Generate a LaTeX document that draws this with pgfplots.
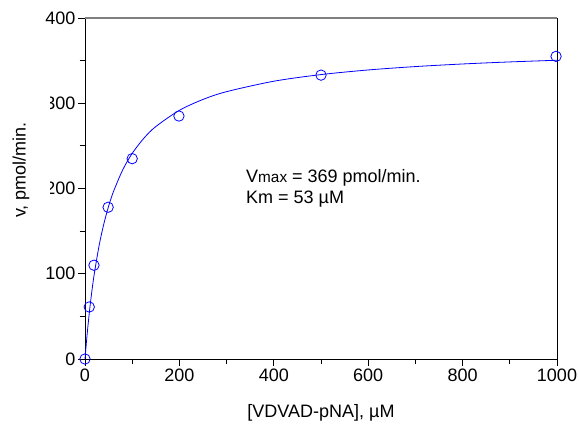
\documentclass[border=0pt]{standalone}
\usepackage{fontspec}
\setmainfont{Liberation Sans}
\usepackage{pgfplots}
\pgfplotsset{compat=1.18}
\definecolor{fitblue}{RGB}{0,0,255}
\definecolor{framegray}{RGB}{128,128,128}

\begin{document}
\fontsize{13.5}{16}\selectfont
\begin{tikzpicture}
\useasboundingbox (-63.75pt,-55.5pt) rectangle (370.5pt,269.25pt);
\begin{axis}[
    scale only axis,
    width=354pt, height=255.75pt,
    xmin=0, xmax=1000, ymin=0, ymax=400,
    xtick={0,200,...,1000}, minor xtick={100,300,...,900},
    ytick={0,100,...,400}, minor ytick={50,150,...,350},
    xtick pos=bottom, ytick pos=left,
    tick align=outside,
    major tick length=5pt, minor tick length=4pt,
    tick style={black, line width=0.6pt},
    axis line style={black, line width=0.6pt},
    /pgf/number format/assume math mode=true,
    /pgf/number format/1000 sep={},
    tick label style={font=\fontsize{13.5}{16}\selectfont},
    xticklabel style={inner sep=2pt},
    yticklabel style={inner sep=2pt},
    xlabel={[VDVAD-pNA], µM},
    xlabel style={at={(axis description cs:0.5,-0.158)}, anchor=center},
    clip=false,
]
% fitted Michaelis-Menten curve, Vmax = 369, Km = 53
\addplot[fitblue, line width=0.6pt, smooth, no marks] coordinates {
    (0,0) (1,6.83) (2,13.42) (5,31.81) (10,58.57) (15,81.40) (20,101.10)
    (30,133.37) (40,158.71) (50,179.13) (60,195.93) (80,221.95) (100,241.18)
    (125,259.13) (150,272.66) (200,291.70) (250,304.46) (300,313.60)
    (400,325.83) (500,333.63) (600,339.05) (700,343.03) (800,346.07)
    (900,348.48) (1000,350.43)
};
% measured rates
\addplot[fitblue, only marks, mark=o, mark size=3.9pt, line width=0.6pt] coordinates {
    (0,0) (9,61) (19,110) (49,178) (100,235) (199,285) (500,333) (998,355)
};
\draw[framegray, line width=1.5pt] (rel axis cs:0,1) -- (rel axis cs:1,1);
\node[anchor=west, align=left, inner sep=0pt, font=\fontsize{13.5}{16}\selectfont]
    at (axis cs:341,200) {V{\fontsize{11.5}{13}\selectfont max} = 369 pmol/min.\\Km = 53 µM};
\end{axis}
% y label drawn last, its white box covering part of the tick labels
\fill[white] (-63.75pt,75pt) rectangle (-26pt,210pt);
\node[rotate=90, anchor=center, inner sep=0pt] at (-48pt,141.7pt) {v, pmol/min.};
\end{tikzpicture}
\end{document}
